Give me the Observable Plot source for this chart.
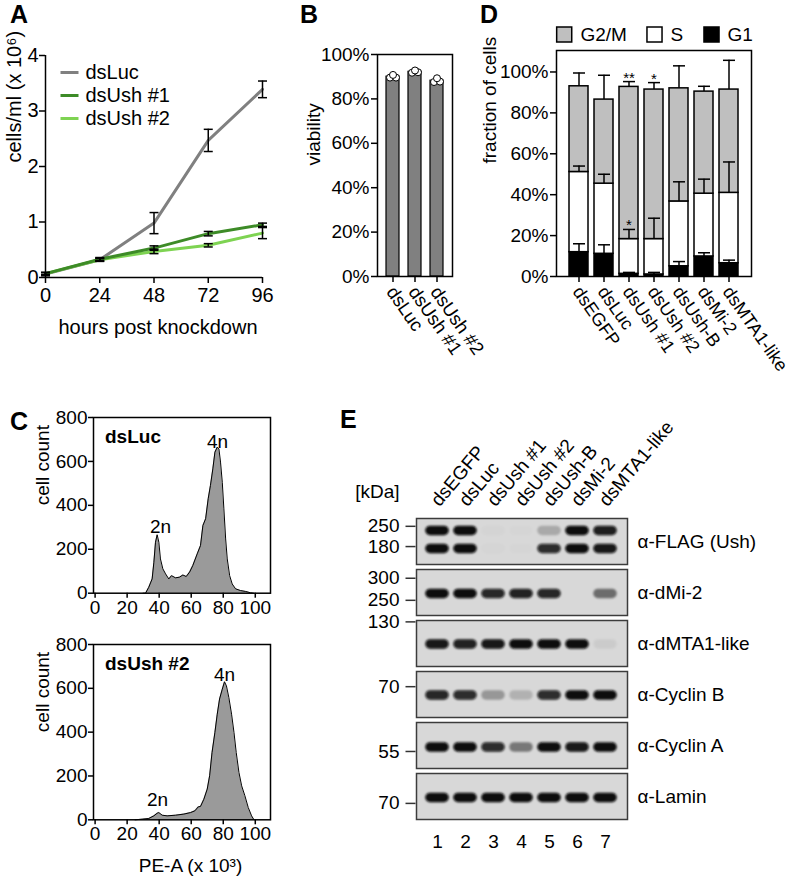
<!DOCTYPE html>
<html><head><meta charset="utf-8">
<script src="https://cdn.jsdelivr.net/npm/d3@7"></script>
<script src="https://cdn.jsdelivr.net/npm/@observablehq/plot@0.6"></script>
<style>
body{margin:0;background:#fff;}
#fig{position:relative;width:794px;height:877px;overflow:hidden;font-family:'Liberation Sans',Arial,sans-serif;}
.layer{position:absolute;left:0;top:0;width:794px;height:877px;}
.letter{position:absolute;font-weight:bold;font-size:25px;line-height:25px;font-family:'Liberation Sans',Arial,sans-serif;}
</style></head><body>
<div id="fig"></div>
<script>
// ---------- DATA ----------
// Panel A: growth curves
const hours = [0, 24, 48, 72, 96];
const growthSeries = ["dsLuc", "dsUsh #1", "dsUsh #2"];
const growthColors = ["#808080", "#3d8b27", "#7ed352"];
const lucMean = [0.06, 0.32, 0.98, 2.47, 3.39];
const lucSD = [0.03, 0.03, 0.19, 0.20, 0.15];
const ush1Mean = [0.07, 0.33, 0.53, 0.79, 0.95];
const ush1SD = [0.02, 0.03, 0.04, 0.04, 0.03];
const ush2Mean = [0.07, 0.32, 0.47, 0.58, 0.80];
const ush2SD = [0.02, 0.02, 0.04, 0.03, 0.10];
const growthTicksY = [0, 1, 2, 3, 4];

// Panel B: viability
const viabLabels = ["dsLuc", "dsUsh #1", "dsUsh #2"];
const viabMean = [90.0, 92.2, 88.2];
const viabRep1 = [89.6, 91.8, 87.6];
const viabRep2 = [90.8, 92.8, 89.3];
const viabRep3 = [89.6, 92.0, 87.8];
const pctTicks = [0, 20, 40, 60, 80, 100];

// Panel C: DNA content histograms
const lucPE =    [30, 31.5, 33.5, 35.6, 36.7, 37.7, 38.75, 39.8, 40.8, 42.3, 44, 46, 47.7, 50.2, 52.7, 54.8, 56.9, 59, 61, 63.75, 65.8, 67.3, 69, 70.6, 72, 73.5, 74.8, 76.25, 77.3, 78.3, 79.4, 80.4, 81.5, 82.5, 84, 85.6, 87.7, 90.8, 94, 97, 99];
const lucCount = [0, 0, 27, 65, 141, 232, 266, 232, 156, 111, 88, 65, 80, 70, 73, 83, 76, 96, 126, 179, 217, 308, 339, 430, 490, 566, 642, 665, 657, 597, 505, 384, 247, 156, 80, 42, 20, 12, 8, 2, 0];
const ush2PE =    [25, 29.4, 33.5, 36.7, 38.75, 39.8, 41.9, 45, 50.2, 55.4, 59.6, 62.3, 64.4, 65.8, 67.9, 70, 71.5, 73, 74.8, 76.25, 77.7, 79.4, 80.8, 82, 83.5, 85.2, 86.7, 88.1, 89.8, 91.5, 93.5, 95.6, 97.7, 99.2];
const ush2Count = [0, 3, 6, 18, 30, 33, 21, 18, 21, 26, 33, 41, 59, 61, 94, 140, 201, 307, 399, 482, 551, 596, 630, 611, 558, 482, 399, 307, 216, 155, 110, 56, 18, 0];
const ploidyLabels = ["2n", "4n"];
const lucLabelX = [40.9, 76.4];
const lucLabelY = [276, 662];
const ush2LabelX = [39, 80.8];
const ush2LabelY = [65, 635];
const peTicks = [0, 20, 40, 60, 80, 100];
const countTicks = [0, 200, 400, 600, 800];

// Panel D: cell cycle phases (percent)
const conds = ["dsEGFP", "dsLuc", "dsUsh #1", "dsUsh #2", "dsUsh-B", "dsMi-2", "dsMTA1-like"];
const phases = ["G2/M", "S", "G1"];
const phaseColors = ["#bfbfbf", "#ffffff", "#000000"];
const g1Pct =  [11.9, 11.1, 1.3, 1.0, 5.0, 9.8, 6.5];
const g1Err =  [4.1, 4.4, 0.7, 1.0, 2.3, 1.8, 1.5];
const sPct =   [39.2, 34.3, 17.0, 17.3, 31.7, 30.7, 34.4];
const sErr =   [2.9, 4.6, 4.7, 10.2, 9.6, 7.1, 15.1];
const g2mPct = [41.9, 41.1, 74.4, 73.1, 55.3, 49.9, 50.5];
const g2mErr = [6.5, 11.9, 2.6, 3.4, 11.0, 2.6, 14.3];
const sigCond = ["dsUsh #1", "dsUsh #2", "dsUsh #1"];
const sigPhase = ["G2/M", "G2/M", "S"];
const sigText = ["**", "*", "*"];

// Panel E: western blot
const lanes = ["1", "2", "3", "4", "5", "6", "7"];
const laneLabels = ["dsEGFP", "dsLuc", "dsUsh #1", "dsUsh #2", "dsUsh-B", "dsMi-2", "dsMTA1-like"];
const antibodies = ["α-FLAG (Ush)", "α-dMi-2", "α-dMTA1-like", "α-Cyclin B", "α-Cyclin A", "α-Lamin"];
const flagUpper = [1, 1, 0.02, 0.01, 0.22, 1, 0.92];
const flagLower = [1, 1, 0.015, 0.01, 0.85, 1, 0.95];
const mi2Int =   [1, 1, 0.88, 0.9, 0.88, 0, 0.5];
const mta1Int =  [0.95, 0.9, 0.95, 1, 1, 1, 0.06];
const cycBInt =  [0.88, 0.85, 0.3, 0.18, 0.85, 1, 1];
const cycAInt =  [1, 1, 0.85, 0.45, 1, 0.95, 1];
const laminInt = [1, 1, 1, 1, 1, 1, 1];
const bandMigration = [[0.26, 0.65], [0.52], [0.51], [0.51], [0.53], [0.52]];
const markerAb =  ["α-FLAG (Ush)", "α-FLAG (Ush)", "α-dMi-2", "α-dMi-2", "α-dMTA1-like", "α-Cyclin B", "α-Cyclin A", "α-Lamin"];
const markerKDa = ["250", "180", "300", "250", "130", "70", "55", "70"];
const markerMig = [0.17, 0.61, 0.19, 0.67, 0.03, 0.33, 0.63, 0.65];

// ---------- HELPERS ----------
const FONT = "'Liberation Sans', Arial, Helvetica, sans-serif";
const fig = document.getElementById("fig");
const hline = {draw(ctx, size) { const r = Math.sqrt(size / Math.PI); ctx.moveTo(-r, 0); ctx.lineTo(r, 0); }};
function mk(opts, fs = 19) {
  const svg = Plot.plot({width: 794, height: 877, ...opts,
    style: {background: "transparent", overflow: "visible", fontFamily: FONT, fontSize: fs + "px", color: "black"}});
  const div = document.createElement("div"); div.className = "layer"; div.appendChild(svg); fig.appendChild(div);
  return svg;
}
function letter(t, x, y) {
  const d = document.createElement("div"); d.className = "letter"; d.textContent = t;
  d.style.left = x + "px"; d.style.top = y + "px"; fig.appendChild(d);
}
const ROT = 55;

// ---------- PANEL A ----------
const growthMeans = [lucMean, ush1Mean, ush2Mean];
const growthSDs = [lucSD, ush1SD, ush2SD];
const growth = growthSeries.flatMap((s, k) => hours.map((h, i) => ({series: s, h, mean: growthMeans[k][i], sd: growthSDs[k][i]})));
mk({
  marginLeft: 45, marginRight: 532, marginTop: 55, marginBottom: 600,
  x: {domain: [0, 96]}, y: {domain: [0, 4]},
  color: {domain: growthSeries, range: growthColors},
  marks: [
    Plot.ruleX([0], {strokeWidth: 1.5}),
    Plot.ruleY([0], {strokeWidth: 1.5}),
    Plot.axisX({ticks: hours, tickFormat: d => String(d), tickSize: 6, tickPadding: 4, label: null, strokeWidth: 1.5}),
    Plot.axisY({ticks: growthTicksY, tickFormat: d => String(d), tickSize: 6, tickPadding: 1, label: null, strokeWidth: 1.5}),
    ...[0, 2, 1].map(k => Plot.line(growth.filter(d => d.series === growthSeries[k]), {x: "h", y: "mean", stroke: "series", strokeWidth: 3})),
    Plot.ruleX(growth, {x: "h", y1: d => d.mean - d.sd, y2: d => d.mean + d.sd, strokeWidth: 1.5}),
    Plot.dot(growth, {x: "h", y: d => d.mean - d.sd, symbol: hline, r: 4.5, fill: "none", stroke: "black", strokeWidth: 1.5}),
    Plot.dot(growth, {x: "h", y: d => d.mean + d.sd, symbol: hline, r: 4.5, fill: "none", stroke: "black", strokeWidth: 1.5}),
    ...growthSeries.flatMap((s, i) => [
      Plot.dot([s], {frameAnchor: "top-left", dx: 24, dy: 17 + 23 * i, symbol: hline, r: 9, fill: "none", stroke: growthColors[i], strokeWidth: 3}),
      Plot.text([s], {frameAnchor: "top-left", dx: 40, dy: 17 + 23 * i, text: d => d, textAnchor: "start", lineAnchor: "middle"})
    ]),
    Plot.text(["hours post knockdown"], {frameAnchor: "bottom", dx: 4, dy: 50, text: d => d, lineAnchor: "middle"}),
    Plot.text(["cells/ml (x 10⁶)"], {frameAnchor: "left", dx: -31, dy: -4, rotate: -90, text: d => d, lineAnchor: "middle"})
  ]
}, 20);

// ---------- PANEL B ----------
const viab = viabLabels.map((c, i) => ({cond: c, mean: viabMean[i], r1: viabRep1[i], r2: viabRep2[i], r3: viabRep3[i]}));
mk({
  marginLeft: 377, marginRight: 342, marginTop: 54, marginBottom: 601,
  x: {domain: viabLabels, paddingInner: 0.42, paddingOuter: 0.377},
  y: {domain: [0, 100]},
  marks: [
    Plot.barY(viab, {x: "cond", y: "mean", fill: "#808080", stroke: "black", strokeWidth: 1.2}),
    Plot.dot(viab, {x: "cond", y: "r1", dx: -3, r: 3.5, fill: "white", stroke: "black", strokeWidth: 1}),
    Plot.dot(viab, {x: "cond", y: "r3", dx: 3, r: 3.5, fill: "white", stroke: "black", strokeWidth: 1}),
    Plot.dot(viab, {x: "cond", y: "r2", dx: 0, r: 3.5, fill: "white", stroke: "black", strokeWidth: 1}),
    Plot.axisY({ticks: pctTicks, tickFormat: d => d + "%", tickSize: 6, tickPadding: 2, label: null, strokeWidth: 1.5}),
    Plot.axisX({tickSize: 6, tickFormat: () => "", label: null, strokeWidth: 1.5}),
    Plot.text(viabLabels, {x: d => d, text: d => d, frameAnchor: "bottom", rotate: ROT, textAnchor: "start", lineAnchor: "top", dx: 3.5, dy: 8, fontSize: 18.5}),
    Plot.text(["viability"], {frameAnchor: "left", dx: -64, rotate: -90, text: d => d, lineAnchor: "middle"}),
    Plot.frame({strokeWidth: 1.5})
  ]
});

// ---------- PANEL C ----------
function histo(pe, cnt, lx, ly, name, top, bottom, withX) {
  const data = pe.map((p, i) => ({pe: p, count: cnt[i]}));
  const labs = ploidyLabels.map((l, i) => ({label: l, x: lx[i], y: ly[i]}));
  mk({
    marginLeft: 93, marginRight: 524, marginTop: top, marginBottom: 877 - bottom,
    x: {domain: [-1, 109.5]}, y: {domain: [0, 800]},
    marks: [
      Plot.areaY(data, {x: "pe", y: "count", fill: "#9a9a9a"}),
      Plot.lineY(data, {x: "pe", y: "count", stroke: "black", strokeWidth: 1}),
      Plot.axisX({ticks: peTicks, tickFormat: d => String(d), tickSize: 5, tickPadding: 2, label: null, strokeWidth: 1.5}),
      Plot.axisY({ticks: countTicks, tickFormat: d => String(d), tickSize: 5, tickPadding: 1, label: null, strokeWidth: 1.5}),
      Plot.frame({strokeWidth: 1.5}),
      Plot.text([name], {frameAnchor: "top-left", dx: 11.5, dy: 25, text: d => d, fontWeight: "bold", textAnchor: "start", lineAnchor: "bottom"}),
      Plot.text(labs, {x: "x", y: "y", text: "label", lineAnchor: "bottom"}),
      Plot.text(["cell count"], {frameAnchor: "left", dx: -51, rotate: -90, text: d => d, lineAnchor: "middle"}),
      ...(withX ? [Plot.text(["PE-A (x 10³)"], {frameAnchor: "bottom", dx: 8.5, dy: 46, text: d => d, lineAnchor: "middle"})] : [])
    ]
  });
}
histo(lucPE, lucCount, lucLabelX, lucLabelY, "dsLuc", 417, 592.7, false);
histo(ush2PE, ush2Count, ush2LabelX, ush2LabelY, "dsUsh #2", 644, 819.3, true);

// ---------- PANEL D ----------
const phaseVals = {"G1": g1Pct, "S": sPct, "G2/M": g2mPct};
const phaseErrs = {"G1": g1Err, "S": sErr, "G2/M": g2mErr};
const stackOrder = ["G1", "S", "G2/M"];
const segs = [];
conds.forEach((c, i) => {
  let base = 0;
  stackOrder.forEach(p => {
    const v = phaseVals[p][i];
    segs.push({cond: c, phase: p, y1: base, y2: base + v, hi: base + v + phaseErrs[p][i]});
    base += v;
  });
});
const sigs = sigCond.map((c, i) => ({cond: c, text: sigText[i], y: segs.find(s => s.cond === c && s.phase === sigPhase[i]).hi}));
mk({
  marginLeft: 556, marginRight: 43, marginTop: 50, marginBottom: 601,
  x: {domain: conds, paddingInner: 0.25, paddingOuter: 0.41},
  y: {domain: [0, 110.5]},
  color: {domain: phases, range: phaseColors},
  marks: [
    Plot.barY(segs, {x: "cond", y1: "y1", y2: "y2", fill: "phase", stroke: "black", strokeWidth: 1.5}),
    Plot.ruleX(segs, {x: "cond", y1: "y2", y2: "hi", strokeWidth: 1.5}),
    Plot.dot(segs, {x: "cond", y: "hi", symbol: hline, r: 6, fill: "none", stroke: "black", strokeWidth: 1.5}),
    Plot.text(sigs, {x: "cond", y: "y", text: "text", fontSize: 15, lineAnchor: "bottom", dy: 1}),
    Plot.axisY({ticks: pctTicks, tickFormat: d => d + "%", tickSize: 6, tickPadding: 2, label: null, strokeWidth: 1.5}),
    Plot.axisX({tickSize: 6, tickFormat: () => "", label: null, strokeWidth: 1.5}),
    Plot.text(conds, {x: d => d, text: d => d, frameAnchor: "bottom", rotate: ROT, textAnchor: "start", lineAnchor: "top", dx: 3.5, dy: 8, fontSize: 18}),
    Plot.text(["fraction of cells"], {frameAnchor: "left", dx: -67, rotate: -90, text: d => d, lineAnchor: "middle"}),
    Plot.frame({strokeWidth: 1.5}),
    ...phases.flatMap((p, i) => [
      Plot.dot([p], {frameAnchor: "top-left", dx: [7.7, 98, 155][i], dy: -16, symbol: "square", r: 8.5, fill: phaseColors[i], stroke: "black", strokeWidth: 1.5}),
      Plot.text([p], {frameAnchor: "top-left", dx: [24, 114, 171][i], dy: -16, text: d => d, textAnchor: "start", lineAnchor: "middle"})
    ])
  ]
});

// ---------- PANEL E ----------
const bandInt = [[flagUpper, flagLower], [mi2Int], [mta1Int], [cycBInt], [cycAInt], [laminInt]];
const blotRows = [];
antibodies.forEach((ab, a) => bandMigration[a].forEach((m, b) => lanes.forEach((lane, l) =>
  blotRows.push({ab, lane, mig: m, int: bandInt[a][b][l]}))));
const markers = markerAb.map((ab, i) => ({ab, kda: markerKDa[i], mig: markerMig[i]}));
const eSvg = mk({
  marginLeft: 416, marginRight: 167, marginTop: 517, marginBottom: 58,
  x: {domain: lanes, paddingInner: 0.2, paddingOuter: 0.3, axis: null},
  y: {domain: [0, 1], reverse: true, axis: null},
  fy: {domain: antibodies, paddingInner: 0.1, paddingOuter: 0, axis: null},
  opacity: {domain: [0, 1], range: [0, 1]},
  marks: [
    Plot.frame({fill: "#d8d8d8", stroke: "#3c3c3c", strokeWidth: 1.5}),
    Plot.tickY(blotRows, {x: "lane", y: "mig", fy: "ab", stroke: "#0a0a0a", strokeOpacity: "int", strokeWidth: 9.5, strokeLinecap: "round", insetLeft: 4, insetRight: 4}),
    Plot.dot(markers, {fy: "ab", y: "mig", frameAnchor: "left", dx: -6, symbol: hline, r: 5, fill: "none", stroke: "#333", strokeWidth: 1.5}),
    Plot.text(markers, {fy: "ab", y: "mig", text: "kda", frameAnchor: "left", dx: -17, textAnchor: "end", lineAnchor: "middle"}),
    Plot.text(antibodies, {fy: d => d, text: d => d, frameAnchor: "right", dx: 10, textAnchor: "start", lineAnchor: "middle"}),
    Plot.text(laneLabels, {x: (d, i) => lanes[i], fy: () => antibodies[0], text: d => d, frameAnchor: "top", rotate: -50, textAnchor: "start", lineAnchor: "bottom", dx: 2, dy: -11}),
    Plot.text(lanes, {x: d => d, fy: () => antibodies[5], text: d => d, frameAnchor: "bottom", dy: 22, lineAnchor: "middle"}),
    Plot.text(["[kDa]"], {fy: () => antibodies[0], text: d => d, frameAnchor: "top-left", dx: -17, dy: -27, textAnchor: "end", lineAnchor: "middle"})
  ]
});
{
  const s = d3.select(eSvg);
  const f = s.append("defs").append("filter").attr("id", "blotblur")
    .attr("x", -0.1).attr("y", -1).attr("width", 1.2).attr("height", 3);
  f.append("feGaussianBlur").attr("stdDeviation", 1.3);
  s.selectAll('g[aria-label="tick"]').attr("filter", "url(#blotblur)");
}

// ---------- PANEL LETTERS ----------
letter("A", 10, 2); letter("B", 300, 2); letter("C", 10, 409); letter("D", 480, 2); letter("E", 340, 407);
</script>
</body></html>
